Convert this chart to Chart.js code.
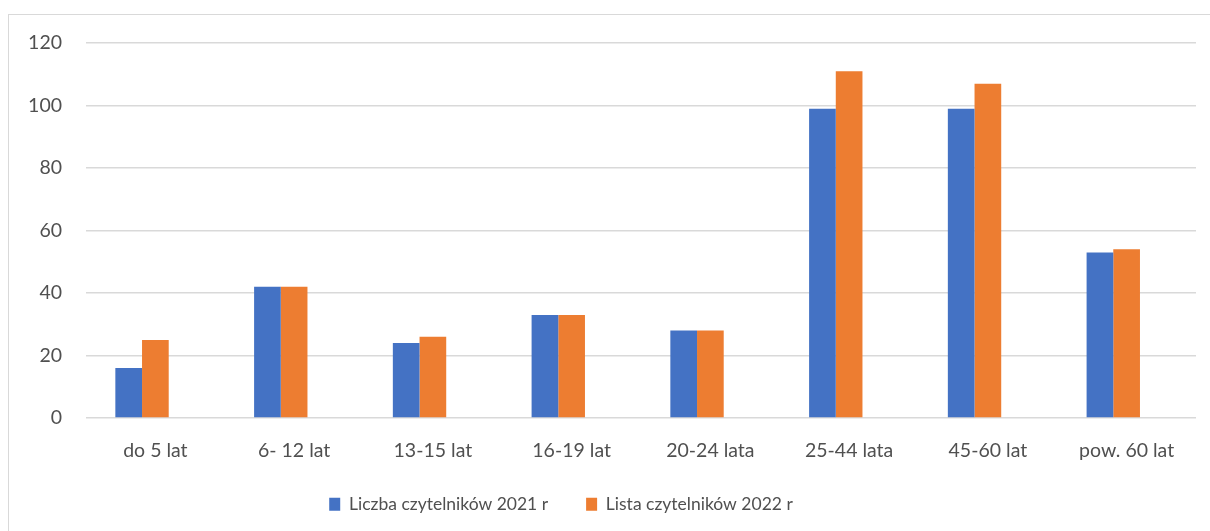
<!DOCTYPE html>
<html>
<head>
<meta charset="utf-8">
<script src="https://cdn.jsdelivr.net/npm/chart.js@4"></script>
<style>
  html, body { margin: 0; padding: 0; background: #fff; }
  #ramka {
    position: absolute; left: 8px; top: 14px; width: 1210px; height: 531px;
    border-left: 1.5px solid #d9d9d9; border-top: 1.5px solid #d9d9d9;
  }
  #wrap { position: absolute; left: 0; top: 0; width: 1210px; height: 531px; }
</style>
</head>
<body>
<div id="ramka"></div>
<div id="wrap"><canvas id="wykres"></canvas></div>
<script>
const kategorie = ["do 5 lat", "6- 12 lat", "13-15 lat", "16-19 lat", "20-24 lata", "25-44 lata", "45-60 lat", "pow. 60 lat"];
const czytelnicy2021 = [16, 42, 24, 33, 28, 99, 99, 53];
const czytelnicy2022 = [25, 42, 26, 33, 28, 111, 107, 54];
// trzecia seria w oryginale jest pusta (przesuwa slupki w lewo)
const seriaPusta = [null, null, null, null, null, null, null, null];
const osY = [0, 20, 40, 60, 80, 100, 120];

const czcionka = { family: "Lato", size: 19.5 };
const czcionkaLegendy = { family: "Lato", size: 17.5 };
const szary = "#505050";

// legenda w oryginale jest troche w lewo i wyzej
const przesunLegende = {
    id: "przesunLegende",
    afterLayout(chart) {
        const l = chart.legend;
        l.left -= 37;
        l.right -= 37;
        l.top -= 8;
        l.bottom -= 8;
    }
};

new Chart(document.getElementById("wykres"), {
    type: "bar",
    data: {
        labels: kategorie,
        datasets: [
            { label: "Liczba czytelników 2021 r", data: czytelnicy2021, backgroundColor: "#4472C4" },
            { label: "Lista czytelników 2022 r", data: czytelnicy2022, backgroundColor: "#ED7D31" },
            { label: "", data: seriaPusta, backgroundColor: "#A5A5A5" }
        ]
    },
    options: {
        responsive: true,
        maintainAspectRatio: false,
        animation: false,
        datasets: { bar: { categoryPercentage: 0.577, barPercentage: 1.0 } },
        layout: { padding: { top: 43, right: 14, left: 0, bottom: 0 } },
        plugins: {
            legend: {
                position: "bottom",
                labels: {
                    font: czcionkaLegendy, color: szary,
                    boxWidth: 11, boxHeight: 13, padding: 38,
                    filter: item => item.text !== ""
                }
            },
            tooltip: { enabled: false }
        },
        scales: {
            x: {
                grid: { display: false },
                border: { display: false },
                ticks: { font: czcionka, color: szary, padding: 13.5 },
                afterFit: s => { s.height = 47.5; }
            },
            y: {
                min: 0, max: 120,
                afterBuildTicks: s => { s.ticks = osY.map(v => ({ value: v })); },
                grid: { color: "#d9d9d9", lineWidth: 1.5, drawTicks: false },
                border: { display: false },
                ticks: { font: czcionka, color: szary, padding: 24 },
                afterFit: s => { s.width = 86; }
            }
        }
    },
    plugins: [przesunLegende]
});
</script>
</body>
</html>
